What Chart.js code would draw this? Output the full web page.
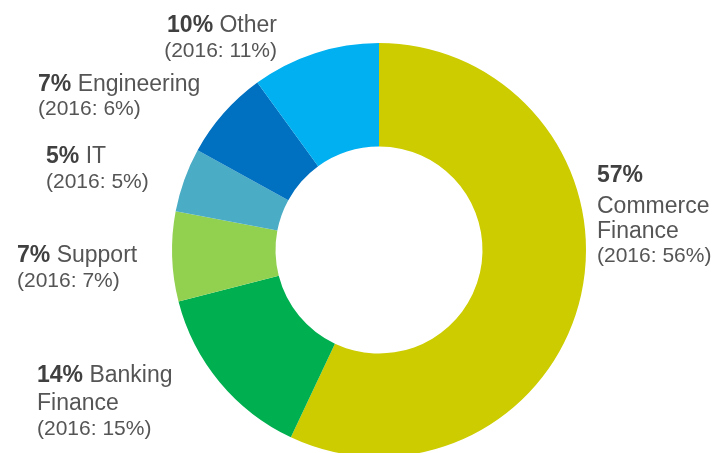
<!DOCTYPE html>
<html>
<head>
<meta charset="utf-8">
<title>Workforce by function</title>
<script src="https://cdn.jsdelivr.net/npm/chart.js@4.4.1/dist/chart.umd.min.js"></script>
<style>
  html, body { margin: 0; padding: 0; background: #fff; }
  #wrap { position: relative; width: 717px; height: 453px; overflow: hidden; }
  #chart { display: block; }
</style>
</head>
<body>
<div id="wrap">
  <canvas id="chart" width="717" height="500"></canvas>
</div>
<script>
// Share of headcount by function, 2017 with 2016 for comparison
const categories = ['Commerce Finance', 'Banking Finance', 'Support', 'IT', 'Engineering', 'Other'];
const share2017 = [57, 14, 7, 5, 7, 10];
const share2016 = [56, 15, 7, 5, 6, 11];
const colors = ['#cccc00', '#00af50', '#92d050', '#4bacc6', '#0070c0', '#00b0f0'];

// Where each label sits and how its name wraps
const labelLayout = [
  { x: 597, align: 'left',  name: ['', 'Commerce', 'Finance'], y: [181.5, 212.5, 238, 262] },
  { x: 37,  align: 'left',  name: ['Banking', 'Finance'],      y: [381.5, 409.5, 435] },
  { x: 17,  align: 'left',  name: ['Support'],                 y: [261.5, 287] },
  { x: 46,  align: 'left',  name: ['IT'],                      y: [163, 188] },
  { x: 38,  align: 'left',  name: ['Engineering'],             y: [90.5, 115] },
  { x: 277, align: 'right', name: ['Other'],                   y: [31.5, 57] }
];

const FONT = '"Liberation Sans", Arial, sans-serif';
const MAIN_SIZE = 23;
const SUB_SIZE = 21;

const labelPlugin = {
  id: 'sideLabels',
  afterDraw(chart) {
    const ctx = chart.ctx;
    ctx.save();
    ctx.textBaseline = 'alphabetic';
    ctx.textAlign = 'left';
    labelLayout.forEach((lay, i) => {
      const lines = [];
      // first line: bold value, then the first part of the name
      lines.push([
        { text: share2017[i] + '%', bold: true, size: MAIN_SIZE },
        { text: lay.name[0] ? ' ' + lay.name[0] : '', bold: false, size: MAIN_SIZE }
      ]);
      lay.name.slice(1).forEach(part => {
        lines.push([{ text: part, bold: false, size: MAIN_SIZE }]);
      });
      lines.push([{ text: '(2016: ' + share2016[i] + '%)', bold: false, size: SUB_SIZE }]);

      lines.forEach((runs, li) => {
        let width = 0;
        runs.forEach(r => {
          ctx.font = (r.bold ? 'bold ' : '') + r.size + 'px ' + FONT;
          r.w = ctx.measureText(r.text).width;
          width += r.w;
        });
        let x = lay.align === 'right' ? lay.x - width : lay.x;
        runs.forEach(r => {
          ctx.font = (r.bold ? 'bold ' : '') + r.size + 'px ' + FONT;
          ctx.fillStyle = r.bold ? '#404040' : '#555555';
          ctx.fillText(r.text, x, lay.y[li]);
          x += r.w;
        });
      });
    });
    ctx.restore();
  }
};

new Chart(document.getElementById('chart'), {
  type: 'doughnut',
  data: {
    labels: categories,
    datasets: [{
      data: share2017,
      backgroundColor: colors,
      borderWidth: 0
    }]
  },
  options: {
    responsive: false,
    animation: false,
    cutout: '50%',
    layout: { padding: { left: 172, right: 131, top: 43, bottom: 43 } },
    plugins: {
      legend: { display: false },
      tooltip: { enabled: false }
    }
  },
  plugins: [labelPlugin]
});
</script>
</body>
</html>
